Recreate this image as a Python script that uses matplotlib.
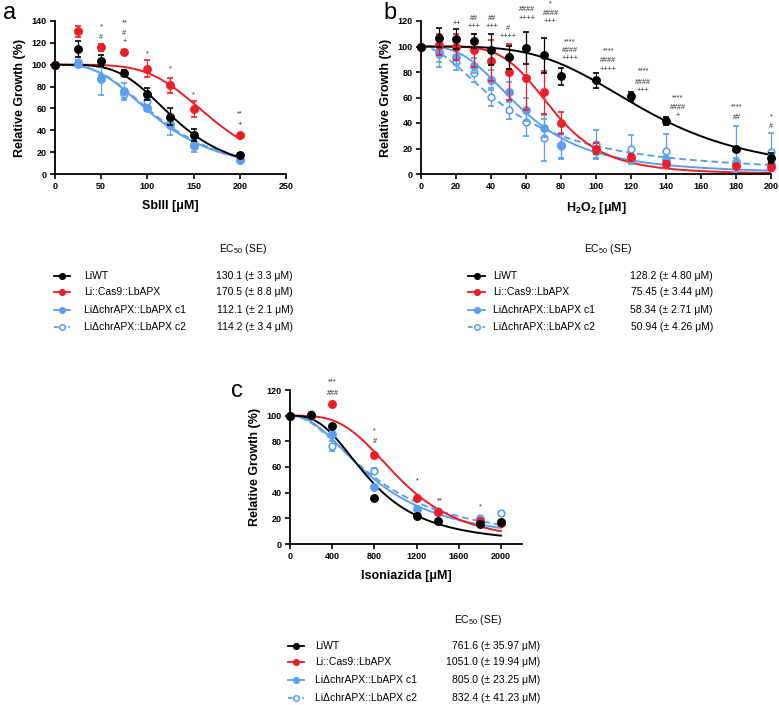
import numpy as np
import matplotlib
matplotlib.use("Agg")
import matplotlib.pyplot as plt
from matplotlib.lines import Line2D

plt.rcParams['font.family'] = ['Liberation Sans', 'DejaVu Sans']
plt.rcParams['mathtext.fontset'] = 'custom'
plt.rcParams['mathtext.rm'] = 'Liberation Sans'
plt.rcParams['mathtext.bf'] = 'Liberation Sans:bold'

# ---------------- data ----------------
series_names = ["LiWT", "Li::Cas9::LbAPX", "LiΔchrAPX::LbAPX c1", "LiΔchrAPX::LbAPX c2"]
colors = ["#000000", "#ee1c24", "#5a9ff0", "#5a9ff0"]

# Panel a: SbIII
xa = [0, 25, 50, 75, 100, 125, 150, 200]
ya_wt = [100, 114.5, 103.5, 92.5, 73.5, 52.5, 35.5, 17.5]
ea_wt = [0, 7, 5, 3, 5.5, 8, 5.5, 1.5]
ya_cas = [100, 130.8, 116, 112, 96.5, 81, 59.5, 35.5]
ea_cas = [0, 5, 3, 1.5, 7.5, 7, 7, 1.5]
ya_c1 = [100, 100.5, 87, 75.5, 60.5, 44.5, 26, 13]
ea_c1 = [0, 1.5, 15, 8, 3, 9, 6, 1]
ya_c2 = [100, 102.5, 88, 73, 67, 46.5, 27, 12.5]
ea_c2 = [0, 2, 3, 4, 3, 3, 3, 1.5]
ec50_a = [130.1, 170.5, 112.1, 114.2]
hill_a = [4.0, 4.7, 3.0, 3.0]
ec50_a_txt = ["130.1 (± 3.3 μM)", "170.5 (± 8.8 μM)", "112.1 (± 2.1 μM)", "114.2 (± 3.4 μM)"]
ann_a = [(50, 135, "*"), (50, 125, "#"),
         (75, 138, "**"), (75, 129, "#"), (75, 121, "+"),
         (100, 110, "*"), (125, 96, "*"), (150, 72, "*"),
         (200, 55, "**"), (200, 45, "+")]

# Panel b: H2O2
xb = [0, 10, 20, 30, 40, 50, 60, 70, 80, 100, 120, 140, 180, 200]
yb_wt = [100, 107, 106, 104.5, 97.5, 91.5, 99, 93, 76.5, 73.5, 61, 41.5, 19.5, 12.5]
eb_wt = [0, 7.5, 8, 5.5, 12, 9, 12.5, 14, 7, 6, 3.5, 3, 1.5, 4]
yb_cas = [100, 101.5, 99.5, 97, 89, 80, 75.5, 64, 40, 20, 13, 8, 6, 5.5]
eb_cas = [0, 8, 10, 13, 16, 22, 25, 17, 9, 4, 3, 2, 2, 2]
yb_c1 = [100, 96, 92, 85, 73.5, 64.5, 50.5, 36, 22.5, 18, 12, 11, 9.5, 8]
eb_c1 = [0, 8, 6, 6, 8, 8, 9, 7, 10, 6, 4, 3, 3, 3]
yb_c2 = [100, 94, 87.5, 79.5, 60.5, 50.5, 40.5, 28.5, 22, 23.5, 19.5, 18, 19.5, 17]
eb_c2 = [0, 10, 6, 7, 7, 7, 11, 18, 10, 11, 11, 13, 18, 15]
ec50_b = [128.2, 75.45, 58.34, 50.94]
hill_b = [3.9, 5.0, 2.94, 1.88]
ec50_b_txt = ["128.2 (± 4.80 μM)", "75.45 (± 3.44 μM)", "58.34 (± 2.71 μM)", "50.94 (± 4.26 μM)"]
ann_b = [(20.4, 118, "++"),
         (30.3, 122, "##"), (30.3, 116, "+++"),
         (40.4, 122, "##"), (40.4, 116, "+++"),
         (49.9, 114, "#"), (49.9, 108, "++++"),
         (60.4, 129, "####"), (60.4, 122, "++++"),
         (74, 133.5, "*"), (74, 126, "####"), (74, 120, "+++"),
         (85, 104, "****"), (85, 97, "####"), (85, 90.5, "++++"),
         (107, 96.5, "****"), (107, 89, "####"), (107, 82, "++++"),
         (127, 80.5, "****"), (127, 72, "####"), (127, 65.5, "+++"),
         (146.7, 59.5, "****"), (146.7, 52, "####"), (146.7, 45.5, "+"),
         (180.4, 52.5, "****"), (180.4, 44, "##"),
         (200, 44.5, "*"), (200, 37, "#")]

# Panel c: Isoniazida
xc = [0, 200, 400, 800, 1200, 1400, 1800, 2000]
yc_wt = [100, 100.2, 92.3, 35.5, 21.8, 18.3, 15.2, 17.2]
ec_wt = [0, 1, 1.5, 1.5, 1.5, 1, 1, 1.5]
yc_cas = [100, 100.5, 109, 69, 35.5, 25.2, 18.3, 16.5]
ec_cas = [0, 1, 1, 2, 1.5, 1, 1, 1]
yc_c1 = [100, 100, 85.6, 44.8, 27, 25, 18.5, 16.5]
ec_c1 = [0, 1, 1.5, 1.5, 1.5, 1, 1, 1]
yc_c2 = [100, 101.3, 76.2, 57.1, 27, 25.5, 20.4, 23.8]
ec_c2 = [0, 1.5, 4, 2, 1.5, 1, 1, 1.5]
ec50_c = [761.6, 1051.0, 805.0, 832.4]
hill_c = [2.76, 3.42, 2.14, 1.98]
ec50_c_txt = ["761.6 (± 35.97 μM)", "1051.0 (± 19.94 μM)", "805.0 (± 23.25 μM)", "832.4 (± 41.23 μM)"]
ann_c = [(404, 126.5, "***"), (404, 117.5, "###"),
         (802, 88, "*"), (802, 80, "#"),
         (1210, 49, "*"), (1423, 33.5, "**"), (1800, 29, "*")]

# ---------------- figure ----------------
W, H = 779, 705
fig = plt.figure(figsize=(W / 100, H / 100), dpi=100)


def box(l, t, r, b):
    return [l / W, 1 - b / H, (r - l) / W, (b - t) / H]


def hill(x, ec50, h, top=100.0, bottom=0.0):
    x = np.asarray(x, dtype=float)
    return bottom + (top - bottom) / (1 + (x / ec50) ** h)


def style_axes(ax, xlim, ylim, xticks, yticks, xlabel):
    ax.set_xlim(*xlim)
    ax.set_ylim(*ylim)
    ax.set_xticks(xticks)
    ax.set_yticks(yticks)
    for s in ["top", "right"]:
        ax.spines[s].set_visible(False)
    for s in ["left", "bottom"]:
        ax.spines[s].set_linewidth(1.3)
    ax.tick_params(direction="out", length=3.5, width=1.2, labelsize=6.5, pad=2.5)
    for lab in ax.get_xticklabels() + ax.get_yticklabels():
        lab.set_fontweight("bold")
    ax.set_ylabel("Relative Growth (%)", fontsize=9, fontweight="bold", labelpad=4)
    ax.set_xlabel(xlabel, fontsize=9, fontweight="bold", labelpad=6)


def draw_panel(ax, x, ys, es, ec50s, hills, xmax):
    xx = np.linspace(0.0001, xmax, 400)
    order = [3, 2, 1, 0]
    for i in order:
        ls = (0, (3.5, 2)) if i == 3 else "-"
        ax.plot(xx, hill(xx, ec50s[i], hills[i]), color=colors[i], lw=1.4, ls=ls, zorder=2 + (3 - i) * 0.1)
    for i in order:
        mfc = "white" if i == 3 else colors[i]
        ax.errorbar(x, ys[i], yerr=es[i], fmt="o", color=colors[i], mfc=mfc, mec=colors[i],
                    ms=5.2 if i != 3 else 4.8, mew=1.2, elinewidth=0.9, capsize=2.4, capthick=0.9,
                    zorder=4 + (3 - i) * 0.1, clip_on=False)


def annotate(ax, anns):
    for (xv, yv, t) in anns:
        ax.text(xv, yv, t, ha="center", va="center", fontsize=5.2, color="#222222", clip_on=False)


def legend_block(header_cx, header_y, handle_x0, handle_x1, text_x, val_rx, row_ys, vals):
    fig.text(header_cx / W, 1 - header_y / H, "EC$_{50}$ (SE)", ha="center", va="center", fontsize=7.5)
    for i in range(4):
        y = 1 - row_ys[i] / H
        ls = (0, (2.5, 1.5)) if i == 3 else "-"
        mfc = "white" if i == 3 else colors[i]
        fig.add_artist(Line2D([handle_x0 / W, handle_x1 / W], [y, y], color=colors[i], lw=1.3, ls=ls,
                              transform=fig.transFigure))
        fig.add_artist(Line2D([(handle_x0 + handle_x1) / 2 / W], [y], color=colors[i], marker="o",
                              ms=4.0, mfc=mfc, mec=colors[i], mew=1.1, transform=fig.transFigure))
        fig.text(text_x / W, y, series_names[i], ha="left", va="center", fontsize=7.5)
        fig.text(val_rx / W, y, vals[i], ha="right", va="center", fontsize=7.5)


# Panel a
axa = fig.add_axes(box(55, 21, 286, 174))
style_axes(axa, (0, 250), (0, 140), range(0, 251, 50), range(0, 141, 20), "SbIII [μM]")
draw_panel(axa, xa, [ya_wt, ya_cas, ya_c1, ya_c2], [ea_wt, ea_cas, ea_c1, ea_c2], ec50_a, hill_a, 200)
annotate(axa, ann_a)
fig.text(3 / W, 1 - 13 / H, "a", fontsize=17, ha="left", va="center")

# Panel b
axb = fig.add_axes(box(421, 21, 771, 174))
style_axes(axb, (0, 200), (0, 120), range(0, 201, 20), range(0, 121, 20), r"H$_\mathbf{2}$O$_\mathbf{2}$ [μM]")
draw_panel(axb, xb, [yb_wt, yb_cas, yb_c1, yb_c2], [eb_wt, eb_cas, eb_c1, eb_c2], ec50_b, hill_b, 200)
annotate(axb, ann_b)
fig.text(383 / W, 1 - 13 / H, "b", fontsize=17, ha="left", va="center")

# Panel c
axc = fig.add_axes(box(290, 390, 522, 544))
style_axes(axc, (0, 2200), (0, 120), range(0, 2001, 400), range(0, 121, 20), "Isoniazida [μM]")
draw_panel(axc, xc, [yc_wt, yc_cas, yc_c1, yc_c2], [ec_wt, ec_cas, ec_c1, ec_c2], ec50_c, hill_c, 2000)
annotate(axc, ann_c)
fig.text(231 / W, 1 - 391 / H, "c", fontsize=17, ha="left", va="center")

# Legends
legend_block(243, 249, 54, 70, 84, 293, [276, 292, 310, 327], ec50_a_txt)
legend_block(608, 249, 468, 485, 493, 713, [276, 292, 310, 327], ec50_b_txt)
legend_block(478, 620, 288, 304, 315, 540, [646, 662, 680, 698], ec50_c_txt)

fig.savefig("out.png", dpi=100)
